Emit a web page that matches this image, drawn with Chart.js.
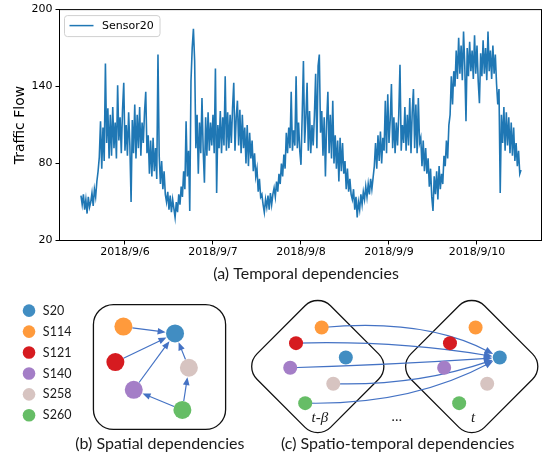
<!DOCTYPE html>
<html><head><meta charset="utf-8">
<script src="https://cdn.jsdelivr.net/npm/chart.js@4.4.1/dist/chart.umd.min.js"></script>
<style>
html,body{margin:0;padding:0;background:#fff;}
#wrap{position:relative;width:546px;height:464px;overflow:hidden;background:#fff;}
#c1{position:absolute;left:0;top:0;}
#c2{position:absolute;left:0;top:280px;}
</style></head><body>
<div id="wrap"><canvas id="c1" width="546" height="292"></canvas><canvas id="c2" width="546" height="184"></canvas></div>
<script>
// ---------- DATA ----------
const seriesLabel = 'Sensor20';
const startDay = 0.5;          // days after 2018/9/5 00:00 (first sample 2018/9/5 12:00)
const stepDay = 1 / 72;        // 20-minute samples
const flowValues = [
  55, 48, 56, 44, 52, 41, 54, 46,
  50, 57, 47, 60, 54, 66, 74, 85,
  113, 76, 108, 82, 158, 96, 123, 84,
  118, 86, 124, 92, 112, 84, 141, 98,
  116, 88, 122, 143, 90, 110, 86, 120,
  94, 50, 114, 88, 126, 84, 118, 92,
  124, 86, 112, 96, 120, 136, 88, 102,
  72, 98, 70, 100, 74, 92, 68, 165,
  86, 64, 82, 60, 74, 56, 50, 58,
  44, 55, 42, 52, 45, 38, 50, 42,
  56, 48, 62, 54, 74, 60, 113, 70,
  90, 43, 144, 170, 185, 160, 92, 118,
  72, 112, 88, 131, 90, 65, 116, 86,
  120, 90, 112, 94, 118, 88, 154, 57,
  110, 92, 121, 88, 116, 94, 148, 90,
  120, 92, 118, 96, 123, 143, 90, 116,
  129, 94, 122, 88, 118, 92, 108, 80,
  110, 78, 104, 84, 98, 74, 88, 70,
  76, 58, 68, 54, 56, 48, 42, 52,
  46, 55, 44, 57, 48, 56, 61, 54,
  66, 58, 72, 64, 80, 70, 87, 76,
  104, 88, 108, 92, 136, 90, 106, 94,
  148, 92, 112, 90, 79, 118, 160, 96,
  116, 143, 90, 121, 88, 110, 94, 118,
  150, 92, 156, 165, 104, 121, 86, 116,
  70, 112, 136, 88, 118, 84, 129, 80,
  102, 76, 98, 66, 100, 74, 96, 72,
  82, 60, 76, 58, 68, 56, 52, 60,
  44, 54, 38, 50, 44, 56, 48, 58,
  52, 62, 54, 64, 56, 68, 60, 69,
  78, 96, 76, 102, 82, 105, 80, 100,
  90, 129, 88, 134, 96, 114, 142, 92,
  116, 88, 112, 94, 118, 157, 90, 110,
  96, 124, 90, 118, 94, 131, 88, 120,
  138, 92, 126, 88, 131, 96, 100, 78,
  98, 74, 92, 72, 84, 62, 76, 54,
  43, 70, 56, 74, 52, 78, 60, 72,
  64, 86, 78, 98, 84, 110, 118, 148,
  126, 152, 140, 168, 146, 178, 150, 172,
  145, 183, 156, 113, 170, 148, 175, 152,
  168, 146, 180, 150, 172, 144, 127, 166,
  148, 176, 150, 170, 145, 183, 152, 168,
  146, 172, 150, 165, 142, 126, 138, 57,
  118, 96, 124, 90, 120, 94, 116, 88,
  112, 86, 108, 82, 96, 78, 90, 72,
  75
];
const tickDays = [1, 2, 3, 4, 5];
const tickLabels = ['2018/9/6', '2018/9/7', '2018/9/8', '2018/9/9', '2018/9/10'];
const yTickValues = [20, 80, 140, 200];
const yTitle = 'Traffic Flow';
const captionA = '(a) Temporal dependencies';
const captionB = '(b) Spatial dependencies';
const captionC = '(c) Spatio-temporal dependencies';
const nodeNames = ['S20', 'S114', 'S121', 'S140', 'S258', 'S260'];
const edgesB = [[1, 0], [2, 0], [3, 0], [4, 0], [5, 3], [5, 4]];   // source -> target
const edgesC = [1, 2, 3, 4, 5];                                   // S* at t-beta -> S20 at t
const stepLabels = ['t-\u03B2', '\u2026', 't'];

// ---------- LAYOUT / STYLE ----------
const nodeColors = ['#418dc2', '#ff9a3c', '#d61b20', '#a47ec7', '#d7c4c1', '#66bd66'];
const legendPos = {x: 20.7, y0: 304, dy: 23.2};
const panelB = {x: [171.7, 118.3, 110, 129, 186, 179.3], y: [329.3, 321.7, 361, 391.7, 367.3, 414]};
const offC = {dx: [29, 4, -22.5, -28.5, 16, -13], dy: [-10, -43.3, -26, 1.3, 19, 40.5]};
const diamondCenters = [[319.3, 366], [478.5, 366]];
const curveCtrl = {1: [430, 312], 2: [401, 337], 3: [396, 364], 4: [421, 387.5], 5: [415, 409]};
const arrowColor = '#4472c4';

Chart.defaults.font.family = '"DejaVu Sans"';

// ---------- CHART 1 ----------
const frameLegendCaption = {
  id: 'frameLegendCaption',
  afterDraw(chart) {
    const {ctx, chartArea: a} = chart;
    ctx.save();
    ctx.strokeStyle = '#000'; ctx.lineWidth = 1;
    ctx.strokeRect(a.left, a.top, a.right - a.left, a.bottom - a.top);
    const ds = chart.data.datasets[0];
    const lx = a.left + 5, ly = a.top + 6, lw = 95.5, lh = 21;
    ctx.beginPath(); ctx.roundRect(lx, ly, lw, lh, 3);
    ctx.fillStyle = 'rgba(255,255,255,0.8)'; ctx.fill();
    ctx.strokeStyle = '#d0d0d0'; ctx.lineWidth = 1; ctx.stroke();
    ctx.beginPath(); ctx.moveTo(lx + 5, ly + 10); ctx.lineTo(lx + 29, ly + 10);
    ctx.strokeStyle = ds.borderColor; ctx.lineWidth = 1.5; ctx.stroke();
    ctx.fillStyle = '#000'; ctx.font = '11px "DejaVu Sans"';
    ctx.textBaseline = 'middle'; ctx.textAlign = 'left';
    ctx.fillText(ds.label, lx + 37.5, ly + 10.5);
    ctx.font = '16px Lato'; ctx.textAlign = 'center'; ctx.textBaseline = 'alphabetic';
    ctx.fillStyle = '#1a1a1a';
    ctx.fillText(captionA, 306, 278.5);
    ctx.restore();
  }
};

new Chart(document.getElementById('c1'), {
  type: 'line',
  data: {datasets: [{
    label: seriesLabel,
    data: flowValues.map((v, i) => ({x: startDay + i * stepDay, y: v})),
    borderColor: '#1f77b4', borderWidth: 1.6, pointRadius: 0, tension: 0, fill: false
  }]},
  options: {
    responsive: false, animation: false, events: [],
    layout: {padding: {top: 7.5, right: 4.5, left: 0, bottom: 0}},
    plugins: {legend: {display: false}, tooltip: {enabled: false}},
    scales: {
      x: {
        type: 'linear', min: 0.256, max: 5.733,
        afterBuildTicks: s => { s.ticks = tickDays.map(v => ({value: v})); },
        afterFit: s => { s.height = 51.5; },
        ticks: {callback: (v, i) => tickLabels[i], font: {size: 11}, color: '#000', padding: 1, maxRotation: 0, autoSkip: false},
        grid: {drawOnChartArea: false, tickLength: 4, color: '#000'},
        border: {color: '#000', width: 1}
      },
      y: {
        min: 20, max: 200,
        afterBuildTicks: s => { s.ticks = yTickValues.map(v => ({value: v})); },
        afterFit: s => { s.width = 59.5; },
        ticks: {font: {size: 11}, color: '#000', padding: 3},
        grid: {drawOnChartArea: false, tickLength: 4, color: '#000'},
        border: {color: '#000', width: 1},
        title: {display: true, text: yTitle, font: {size: 14}, color: '#000', padding: {top: 12, bottom: 0}}
      }
    }
  },
  plugins: [frameLegendCaption]
});

// ---------- CHART 2 (diagrams) ----------
function headAt(ctx, tx, ty, ux, uy, len, hw) {
  const bx = tx - ux * len, by = ty - uy * len;
  ctx.beginPath();
  ctx.moveTo(tx, ty);
  ctx.lineTo(bx - uy * hw, by + ux * hw);
  ctx.lineTo(bx + uy * hw, by - ux * hw);
  ctx.closePath(); ctx.fill();
}

const diagramPlugin = {
  id: 'diagramPlugin',
  beforeDatasetsDraw(chart) {
    const {ctx, scales: {x: xs, y: ys}} = chart;
    const X = v => xs.getPixelForValue(v), Y = v => ys.getPixelForValue(v);
    ctx.save();
    ctx.strokeStyle = '#111'; ctx.lineWidth = 1.3;
    ctx.beginPath(); ctx.roundRect(X(87.3), Y(297.3), X(224) - X(87.3), Y(435.7) - Y(297.3), 20); ctx.stroke();
    const s = 104, rc = 18;
    diamondCenters.forEach(([cx, cy]) => {
      ctx.save(); ctx.translate(X(cx), Y(cy)); ctx.rotate(Math.PI / 4);
      ctx.beginPath(); ctx.roundRect(-s / 2, -s / 2, s, s, rc); ctx.stroke();
      ctx.restore();
    });
    ctx.strokeStyle = arrowColor; ctx.fillStyle = arrowColor; ctx.lineWidth = 1.2;
    const ds = chart.data.datasets;
    const rB = ds[1].pointRadius, rC = ds[2].pointRadius;
    edgesB.forEach(([f, t]) => {
      const x0 = X(panelB.x[f]), y0 = Y(panelB.y[f]), x1 = X(panelB.x[t]), y1 = Y(panelB.y[t]);
      const L = Math.hypot(x1 - x0, y1 - y0), ux = (x1 - x0) / L, uy = (y1 - y0) / L;
      const sx = x0 + ux * rB, sy = y0 + uy * rB, tx = x1 - ux * (rB + 0.5), ty = y1 - uy * (rB + 0.5);
      ctx.beginPath(); ctx.moveTo(sx, sy); ctx.lineTo(tx - ux * 6, ty - uy * 6); ctx.stroke();
      headAt(ctx, tx, ty, ux, uy, 8, 3.3);
    });
    const [lc, rcn] = diamondCenters;
    const tX = X(rcn[0] + offC.dx[0]), tY = Y(rcn[1] + offC.dy[0]);
    edgesC.forEach(f => {
      const x0 = X(lc[0] + offC.dx[f]), y0 = Y(lc[1] + offC.dy[f]);
      const [cxv, cyv] = curveCtrl[f];
      const cx = X(cxv), cy = Y(cyv);
      const L = Math.hypot(tX - cx, tY - cy), ux = (tX - cx) / L, uy = (tY - cy) / L;
      const tx = tX - ux * (rC + 0.5), ty = tY - uy * (rC + 0.5);
      ctx.beginPath(); ctx.moveTo(x0, y0); ctx.quadraticCurveTo(cx, cy, tx - ux * 5, ty - uy * 5); ctx.stroke();
      headAt(ctx, tx, ty, ux, uy, 8.5, 3.6);
    });
    ctx.restore();
  },
  afterDraw(chart) {
    const {ctx, scales: {x: xs, y: ys}} = chart;
    const X = v => xs.getPixelForValue(v), Y = v => ys.getPixelForValue(v);
    ctx.save();
    ctx.fillStyle = '#1a1a1a'; ctx.textBaseline = 'alphabetic';
    ctx.font = '12.5px Lato'; ctx.textAlign = 'left';
    nodeNames.forEach((n, i) => ctx.fillText(n, X(35), Y(legendPos.y0 + i * legendPos.dy + 4.5)));
    ctx.font = '16px Lato'; ctx.textAlign = 'center';
    ctx.fillText(captionB, X(156), Y(457.5));
    ctx.fillText(captionC, X(402), Y(457.5));
    ctx.font = 'italic 15px "Liberation Serif"';
    ctx.fillText(stepLabels[0], X(321.5), Y(427));
    ctx.fillText(stepLabels[2], X(480), Y(427));
    ctx.font = '14px Lato';
    ctx.fillText(stepLabels[1], X(401), Y(426));
    ctx.restore();
  }
};

const cL = diamondCenters[0], cR = diamondCenters[1];
new Chart(document.getElementById('c2'), {
  type: 'scatter',
  data: {datasets: [
    {data: nodeNames.map((n, i) => ({x: legendPos.x, y: legendPos.y0 + i * legendPos.dy})), pointRadius: 6.3, pointBackgroundColor: nodeColors, pointBorderWidth: 0, clip: false},
    {data: nodeNames.map((n, i) => ({x: panelB.x[i], y: panelB.y[i]})), pointRadius: 9, pointBackgroundColor: nodeColors, pointBorderWidth: 0, clip: false},
    {data: nodeNames.map((n, i) => ({x: cL[0] + offC.dx[i], y: cL[1] + offC.dy[i]})), pointRadius: 7, pointBackgroundColor: nodeColors, pointBorderWidth: 0, clip: false},
    {data: nodeNames.map((n, i) => ({x: cR[0] + offC.dx[i], y: cR[1] + offC.dy[i]})), pointRadius: 7, pointBackgroundColor: nodeColors, pointBorderWidth: 0, clip: false}
  ]},
  options: {
    responsive: false, animation: false, events: [],
    layout: {padding: 0},
    plugins: {legend: {display: false}, tooltip: {enabled: false}},
    scales: {
      x: {type: 'linear', min: 0, max: 546, display: false},
      y: {type: 'linear', min: 280, max: 464, reverse: true, display: false}
    }
  },
  plugins: [diagramPlugin]
});
</script>
</body></html>
